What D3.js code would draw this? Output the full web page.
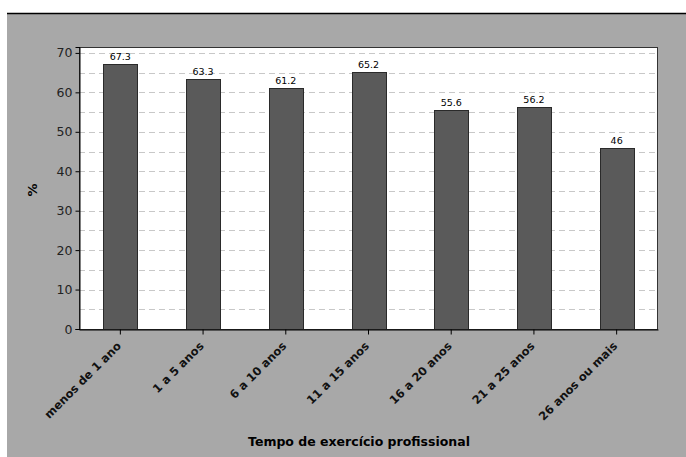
<!DOCTYPE html>
<html><head><meta charset="utf-8">
<script src="https://cdn.jsdelivr.net/npm/d3@7"></script>
<style>body{margin:0;background:#fff}svg{display:block}</style>
</head><body>
<script>
const categories = ["menos de 1 ano","1 a 5 anos","6 a 10 anos","11 a 15 anos","16 a 20 anos","21 a 25 anos","26 anos ou mais"];
const values = [67.3, 63.3, 61.2, 65.2, 55.6, 56.2, 46];
const valueLabels = ["67.3","63.3","61.2","65.2","55.6","56.2","46"];
const yTicks = [0,10,20,30,40,50,60,70];
const gridValues = [5,10,15,20,25,30,35,40,45,50,55,60,65,70];

const W = 686, H = 457;
const svg = d3.select("body").append("svg").attr("width", W).attr("height", H);
svg.append("rect").attr("x",7).attr("y",13).attr("width",W-7).attr("height",H-13).attr("fill","#a8a8a8");
svg.append("line").attr("x1",7).attr("x2",W).attr("y1",13.5).attr("y2",13.5).attr("stroke","#000").attr("stroke-width",1.5);

const L = 79, R = 658, T = 47, B = 329;
const x = d3.scaleBand().domain(categories).range([L, R]).paddingInner(0.59).paddingOuter(0.295);
const y = d3.scaleLinear().domain([0, 71.5]).range([B, T]);

svg.append("rect").attr("x",L).attr("y",T).attr("width",R-L).attr("height",B-T).attr("fill","#fff");

svg.append("g").selectAll("line").data(gridValues).join("line")
  .attr("x1",L).attr("x2",R).attr("y1",d=>Math.round(y(d))+0.5).attr("y2",d=>Math.round(y(d))+0.5)
  .attr("stroke","#c8c8c8").attr("stroke-dasharray","6,4");

svg.append("g").selectAll("rect").data(values).join("rect")
  .attr("x",(d,i)=>Math.round(x(categories[i]))+0.5)
  .attr("y",d=>Math.round(y(d))+0.5)
  .attr("width",Math.round(x.bandwidth()))
  .attr("height",d=>B-Math.round(y(d)))
  .attr("fill","#5a5a5a").attr("stroke","#2a2a2a").attr("stroke-width",1);

svg.append("g").selectAll("text").data(values).join("text")
  .attr("x",(d,i)=>x(categories[i])+x.bandwidth()/2)
  .attr("y",d=>y(d)-4)
  .attr("text-anchor","middle")
  .attr("font-family","DejaVu Sans").attr("font-size",9.5).attr("fill","#000")
  .text((d,i)=>valueLabels[i]);

svg.append("rect").attr("x",L+0.5).attr("y",T+0.5).attr("width",R-L-1).attr("height",B-T).attr("fill","none").attr("stroke","#333").attr("stroke-width",1);

const yAxis = svg.append("g").attr("transform",`translate(${L+0.5},0)`)
  .call(d3.axisLeft(y).tickValues(yTicks).tickSize(4).tickPadding(3));
yAxis.select(".domain").attr("stroke","#000");
yAxis.selectAll(".tick line").attr("stroke","#000");
yAxis.selectAll("text").attr("font-family","DejaVu Sans").attr("font-size",12.5).attr("fill","#222");

const xAxis = svg.append("g").attr("transform",`translate(0,${B+0.5})`)
  .call(d3.axisBottom(x).tickSize(5).tickSizeOuter(0));
xAxis.select(".domain").attr("stroke","#000");
xAxis.selectAll(".tick line").attr("stroke","#000");
xAxis.selectAll("text").attr("font-family","DejaVu Sans").attr("font-size",11.5).attr("font-weight","bold").attr("fill","#111")
  .attr("text-anchor","end").attr("dy","0.35em")
  .attr("transform","translate(0,13) rotate(-45) translate(-2,0)").attr("x",0).attr("y",0);

svg.append("text").attr("x",359).attr("y",446).attr("text-anchor","middle")
  .attr("font-family","DejaVu Sans").attr("font-weight","bold").attr("font-size",12.5).attr("fill","#000")
  .text("Tempo de exercício profissional");

svg.append("text").attr("transform","translate(37,190) rotate(-90)").attr("text-anchor","middle")
  .attr("font-family","DejaVu Sans").attr("font-weight","bold").attr("font-size",13).attr("fill","#000")
  .text("%");
</script>
</body></html>
